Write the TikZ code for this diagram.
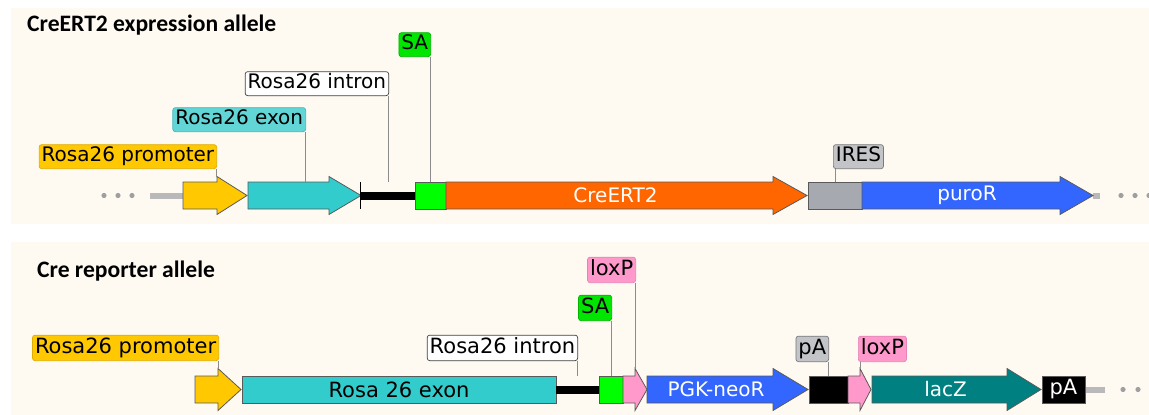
\documentclass[tikz,border=0pt]{standalone}
\usepackage{fontspec}
\setmainfont{DejaVu Sans}
\newfontfamily\titlefont{Carlito}
\usepackage{tikz}

\definecolor{bg}{HTML}{FEFAF2}
\definecolor{yel}{HTML}{FFC800}
\definecolor{yelD}{HTML}{E0AC00}
\definecolor{tealx}{HTML}{33CCCC}
\definecolor{tealL}{HTML}{62D6D6}
\definecolor{tealD}{HTML}{3FB8B8}
\definecolor{grn}{HTML}{00FF00}
\definecolor{grnL}{HTML}{00E600}
\definecolor{grnD}{HTML}{00B400}
\definecolor{ora}{HTML}{FF6600}
\definecolor{iresg}{HTML}{A6AAB0}
\definecolor{lgrey}{HTML}{C2C4C8}
\definecolor{lgreyD}{HTML}{7A7A7A}
\definecolor{blu}{HTML}{3366FF}
\definecolor{pnk}{HTML}{FF99CC}
\definecolor{pnkD}{HTML}{E684B6}
\definecolor{lac}{HTML}{008080}
\definecolor{edge}{HTML}{5A5A5A}
\definecolor{leadc}{HTML}{8C8C8C}

% arrow: name, start, head start, tip, colour, text
\newcommand\arr[6]{%
  \filldraw[outline,fill=#5] (#2,-\bh) -- (#3,-\bh) -- (#3,-\hh) -- (#4,0) -- (#3,\hh) -- (#3,\bh) -- (#2,\bh) -- cycle;
  \coordinate (#1h) at (#3,-\hh);
  \node[body,minimum width=#3-#2] (#1) at ({(#2+#3)/2+6},0) {#6};}
% box: name, start, end, colour, text
\newcommand\blk[5]{%
  \node[box,fill=#4,minimum width=#3-#2] (#1) at ({(#2+#3)/2},0) {#5};}

\begin{document}
\begin{tikzpicture}[x=1pt,y=-1pt,
   title/.style={font=\titlefont\bfseries\fontsize{23.6}{27}\selectfont,inner sep=0},
   outline/.style={draw=edge,line width=0.8pt,line join=miter},
   body/.style={inner sep=0,minimum height=27,text=white,font=\fontsize{20}{24}\selectfont},
   box/.style={draw=edge,line width=0.8pt,inner sep=0,minimum height=27,text=white},
   intron/.style={fill=black,inner sep=0,minimum height=8},
   lab/.style={draw,line width=0.7pt,rounded corners=2.5pt,inner xsep=2.5pt,inner ysep=0,
               minimum height=24,text height=15,text depth=4.5,font=\fontsize{20}{24}\selectfont},
   labB/.style={lab,minimum height=25.5,text height=15.5,text depth=4.8,font=\fontsize{21}{25}\selectfont},
   lead/.style={draw=leadc,line width=0.7pt},
   hatch/.style={fill=gray!55},
   dot/.style={fill=gray!75}]
\useasboundingbox[fill=white] (0,0) rectangle (1149,415);
\fill[bg] (11,8) rectangle (1149,224);
\fill[bg] (11,242) rectangle (1149,415);
\node[title,anchor=base west] (t1) at (27,31) {CreERT2 expression allele};
\node[title,anchor=base west] (t2) at (37,277) {Cre reporter allele};

% CreERT2 expression allele
\begin{scope}[shift={(0,195.5)}]
\def\bh{13.5}\def\hh{19}
\foreach \x in {104,118,132,1121,1135,1149} \fill[dot] (\x,0) circle (2.6);
\fill[hatch] (150,-3) rectangle (183,3);
\fill[hatch] (1093,-3) rectangle (1100,3);
\arr{prom}{183}{217}{247}{yel}{}
\arr{exon}{248}{329}{361}{tealx}{}
\node[intron,minimum width=54] (intr) at (388,0) {};
\draw[line width=1.2pt] ([yshift=13.5pt]intr.west) -- ([yshift=-13.5pt]intr.west);
\blk{sa}{415}{446}{grn}{}
\arr{cre}{446}{773}{807}{ora}{CreERT2}
\blk{ires}{808}{862}{iresg}{}
\arr{puro}{862}{1060}{1093}{blu}{puroR}
\end{scope}

\node[lab,fill=yel,draw=yelD,anchor=south east] (lprom) at (217,169) {Rosa26 promoter};
\node[lab,fill=tealL,draw=tealD,anchor=south east] (lexon) at (306,132) {Rosa26 exon};
\node[lab,fill=white,draw=black!75,anchor=south east] (lint) at (389,96) {Rosa26 intron};
\node[lab,fill=grnL,draw=grnD,anchor=south east] (lsa) at (431,57) {SA};
\node[lab,fill=lgrey,draw=lgreyD,anchor=south west] (lires) at (833,169) {IRES};

\draw[lead] ([xshift=-1pt]lprom.south east) -- ([xshift=-1pt]lprom.south east |- promh);
\draw[lead] ([xshift=-1pt]lexon.south east) -- ([xshift=-1pt]lexon.south east |- exon.north);
\draw[lead] ([xshift=-1pt]lint.south east) -- ([xshift=-1pt]lint.south east |- sa.north);
\draw[lead] ([xshift=-1pt]lsa.south east) -- ([xshift=-1pt]lsa.south east |- sa.north);
\draw[lead] ([xshift=2pt]lires.south west) -- ([xshift=2pt]lires.south west |- ires.north);

% Cre reporter allele
\begin{scope}[shift={(0,389.5)},font=\fontsize{21}{25}\selectfont]
\def\bh{13.5}\def\hh{21}
\foreach \x in {1123,1138} \fill[dot] (\x,0) circle (2.6);
\fill[hatch] (1085,-3) rectangle (1105,3);
\arr{promB}{195}{218}{241}{yel}{}
\blk{exonB}{242}{556}{tealx}{\color{black}Rosa 26 exon}
\node[intron,minimum width=43] (intB) at (577.5,0) {};
\blk{saB}{599}{623}{grn}{}
\arr{loxB}{623}{635}{647}{pnk}{}
\arr{neo}{647}{773}{808}{blu}{PGK-neoR}
\blk{paB}{809}{848}{black}{}
\arr{loxC}{848}{860}{871}{pnk}{}
\arr{lacz}{872}{1007}{1041}{lac}{lacZ}
\blk{paC}{1042}{1085}{black}{pA}
\end{scope}

\node[labB,fill=yel,draw=yelD,anchor=south east] (lpromB) at (219,361) {Rosa26 promoter};
\node[labB,fill=white,draw=black!75,anchor=south east] (lintB) at (578,361) {Rosa26 intron};
\node[labB,fill=grnL,draw=grnD,anchor=south east] (lsaB) at (612,321) {SA};
\node[labB,fill=pnk,draw=pnkD,anchor=south east] (lloxB) at (636,283) {loxP};
\node[labB,fill=lgrey,draw=lgreyD,anchor=south east] (lpaB) at (829,362) {pA};
\node[labB,fill=pnk,draw=pnkD,anchor=south west] (lloxC) at (858,362) {loxP};

\draw[lead] ([xshift=-1pt]lpromB.south east) -- ([xshift=-1pt]lpromB.south east |- promBh);
\draw[lead] ([xshift=-1pt]lintB.south east) -- ([xshift=-1pt]lintB.south east |- saB.north);
\draw[lead] ([xshift=-1pt]lsaB.south east) -- ([xshift=-1pt]lsaB.south east |- saB.north);
\draw[lead] ([xshift=-1pt]lloxB.south east) -- ([xshift=-1pt]lloxB.south east |- loxBh);
\draw[lead] ([xshift=-1pt]lpaB.south east) -- ([xshift=-1pt]lpaB.south east |- paB.north);
\draw[lead] ([xshift=2pt]lloxC.south west) -- ([xshift=2pt]lloxC.south west |- loxCh);
\end{tikzpicture}
\end{document}
